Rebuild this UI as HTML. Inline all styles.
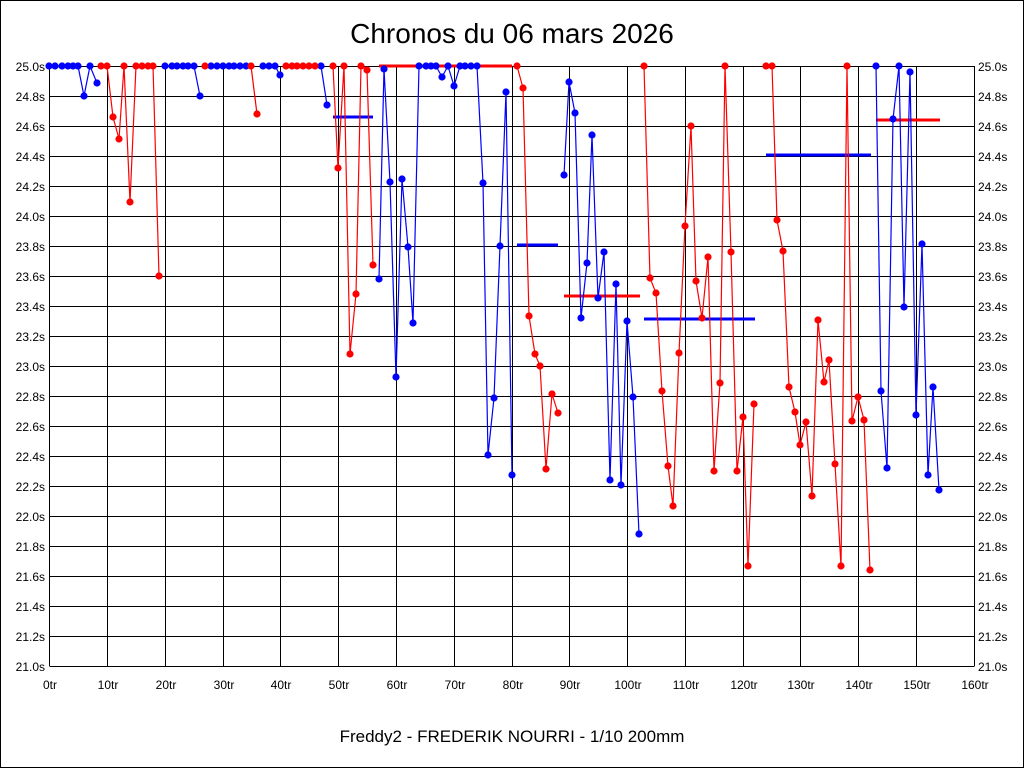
<!DOCTYPE html>
<html><head><meta charset="utf-8"><style>
html,body{margin:0;padding:0;background:#fff}
svg{display:block}
text{font-family:"Liberation Sans",sans-serif;fill:#000}
</style></head><body>
<svg width="1024" height="768" viewBox="0 0 1024 768" xmlns="http://www.w3.org/2000/svg">
<defs>
<marker id="mb" markerUnits="userSpaceOnUse" markerWidth="8" markerHeight="8" refX="4" refY="4" overflow="visible"><circle cx="4" cy="4" r="3.6" fill="#00f"/></marker>
<marker id="mr" markerUnits="userSpaceOnUse" markerWidth="8" markerHeight="8" refX="4" refY="4" overflow="visible"><circle cx="4" cy="4" r="3.6" fill="#f00"/></marker>
</defs>
<rect x="0.5" y="0.5" width="1023" height="767" fill="#fff" stroke="#000"/>
<text x="512" y="43" font-size="28" text-anchor="middle">Chronos du 06 mars 2026</text>
<text x="512" y="742" font-size="17" text-anchor="middle">Freddy2 - FREDERIK NOURRI - 1/10 200mm</text>
<g stroke="#000" stroke-width="1">
<path d="M49.5 66.5H974.5M49.5 96.5H974.5M49.5 126.5H974.5M49.5 156.5H974.5M49.5 186.5H974.5M49.5 216.5H974.5M49.5 246.5H974.5M49.5 276.5H974.5M49.5 306.5H974.5M49.5 336.5H974.5M49.5 366.5H974.5M49.5 396.5H974.5M49.5 426.5H974.5M49.5 456.5H974.5M49.5 486.5H974.5M49.5 516.5H974.5M49.5 546.5H974.5M49.5 576.5H974.5M49.5 606.5H974.5M49.5 636.5H974.5M49.5 666.5H974.5"/>
<path d="M49.5 66V666M107.5 66V666M165.5 66V666M223.5 66V666M280.5 66V666M338.5 66V666M396.5 66V666M454.5 66V666M512.5 66V666M569.5 66V666M627.5 66V666M685.5 66V666M743.5 66V666M800.5 66V666M858.5 66V666M916.5 66V666M974.5 66V666"/>
</g>
<g font-size="12" text-anchor="end">
<text x="45" y="71">25.0s</text><text x="45" y="101">24.8s</text><text x="45" y="131">24.6s</text><text x="45" y="161">24.4s</text><text x="45" y="191">24.2s</text><text x="45" y="221">24.0s</text><text x="45" y="251">23.8s</text><text x="45" y="281">23.6s</text><text x="45" y="311">23.4s</text><text x="45" y="341">23.2s</text><text x="45" y="371">23.0s</text><text x="45" y="401">22.8s</text><text x="45" y="431">22.6s</text><text x="45" y="461">22.4s</text><text x="45" y="491">22.2s</text><text x="45" y="521">22.0s</text><text x="45" y="551">21.8s</text><text x="45" y="581">21.6s</text><text x="45" y="611">21.4s</text><text x="45" y="641">21.2s</text><text x="45" y="671">21.0s</text>
</g>
<g font-size="12">
<text x="978" y="71">25.0s</text><text x="978" y="101">24.8s</text><text x="978" y="131">24.6s</text><text x="978" y="161">24.4s</text><text x="978" y="191">24.2s</text><text x="978" y="221">24.0s</text><text x="978" y="251">23.8s</text><text x="978" y="281">23.6s</text><text x="978" y="311">23.4s</text><text x="978" y="341">23.2s</text><text x="978" y="371">23.0s</text><text x="978" y="401">22.8s</text><text x="978" y="431">22.6s</text><text x="978" y="461">22.4s</text><text x="978" y="491">22.2s</text><text x="978" y="521">22.0s</text><text x="978" y="551">21.8s</text><text x="978" y="581">21.6s</text><text x="978" y="611">21.4s</text><text x="978" y="641">21.2s</text><text x="978" y="671">21.0s</text>
</g>
<g font-size="12" text-anchor="middle">
<text x="50" y="689">0tr</text><text x="108" y="689">10tr</text><text x="166" y="689">20tr</text><text x="224" y="689">30tr</text><text x="281" y="689">40tr</text><text x="339" y="689">50tr</text><text x="397" y="689">60tr</text><text x="455" y="689">70tr</text><text x="513" y="689">80tr</text><text x="570" y="689">90tr</text><text x="628" y="689">100tr</text><text x="686" y="689">110tr</text><text x="744" y="689">120tr</text><text x="801" y="689">130tr</text><text x="859" y="689">140tr</text><text x="917" y="689">150tr</text><text x="975" y="689">160tr</text>
</g>
<g stroke-width="3">
<path d="M333 117H373" stroke="#00f"/>
<path d="M379 66H512" stroke="#f00"/>
<path d="M517 245H558" stroke="#00f"/>
<path d="M564 296H640" stroke="#f00"/>
<path d="M644 319H755" stroke="#00f"/>
<path d="M766 155H871" stroke="#00f"/>
<path d="M876 120H940" stroke="#f00"/>
</g>
<g fill="none" stroke-width="1.2">
<g stroke="#00f" marker-start="url(#mb)" marker-mid="url(#mb)" marker-end="url(#mb)">
<polyline points="49,66 55,66 62,66 68,66 73,66 78,66 84,96 90,66 97,83"/>
<polyline points="165,66 172,66 177,66 183,66 188,66 194,66 200,96"/>
<polyline points="211,66 217,66 223,66 229,66 234,66 240,66 246,66"/>
<polyline points="263,66 269,66 275,66 280,75"/>
<polyline points="321,66 327,105"/>
<polyline points="379,279 384,69 390,182 396,377 402,179 408,247 413,323 419,66 426,66 431,66 436,66 442,77 448,66 454,86 460,66 465,66 471,66 477,66 483,183 488,455 494,398 500,246 506,92 512,475"/>
<polyline points="564,175 569,82 575,113 581,318 587,263 592,135 598,298 604,252 610,480 616,284 621,485 627,321 633,397 639,534"/>
<polyline points="876,66 881,391 887,468 893,119 899,66 904,307 910,72 916,415 922,244 928,475 933,387 939,490"/>
</g>
<g stroke="#f00" marker-start="url(#mr)" marker-mid="url(#mr)" marker-end="url(#mr)">
<polyline points="101,66 107,66 113,117 119,139 124,66 130,202 136,66 142,66 148,66 153,66 159,276"/>
<polyline points="251,66 257,114"/>
<polyline points="286,66 292,66 297,66 303,66 309,66 315,66"/>
<polyline points="333,66 338,168 344,66 350,354 356,294 361,66 367,70 373,265"/>
<polyline points="517,66 523,88 529,316 535,354 540,366 546,469 552,394 558,413"/>
<polyline points="644,66 650,278 656,293 662,391 668,466 673,506 679,353 685,226 691,126 696,281 702,318 708,257 714,471 720,383 725,66 731,252 737,471 743,417 748,566 754,404"/>
<polyline points="766,66 772,66 777,220 783,251 789,387 795,412 800,445 806,422 812,496 818,320 824,382 829,360 835,464 841,566 847,66 852,421 858,397 864,420 870,570"/>
</g>
</g>
<circle cx="205" cy="66" r="3.6" fill="#f00"/>
</svg>
</body></html>
